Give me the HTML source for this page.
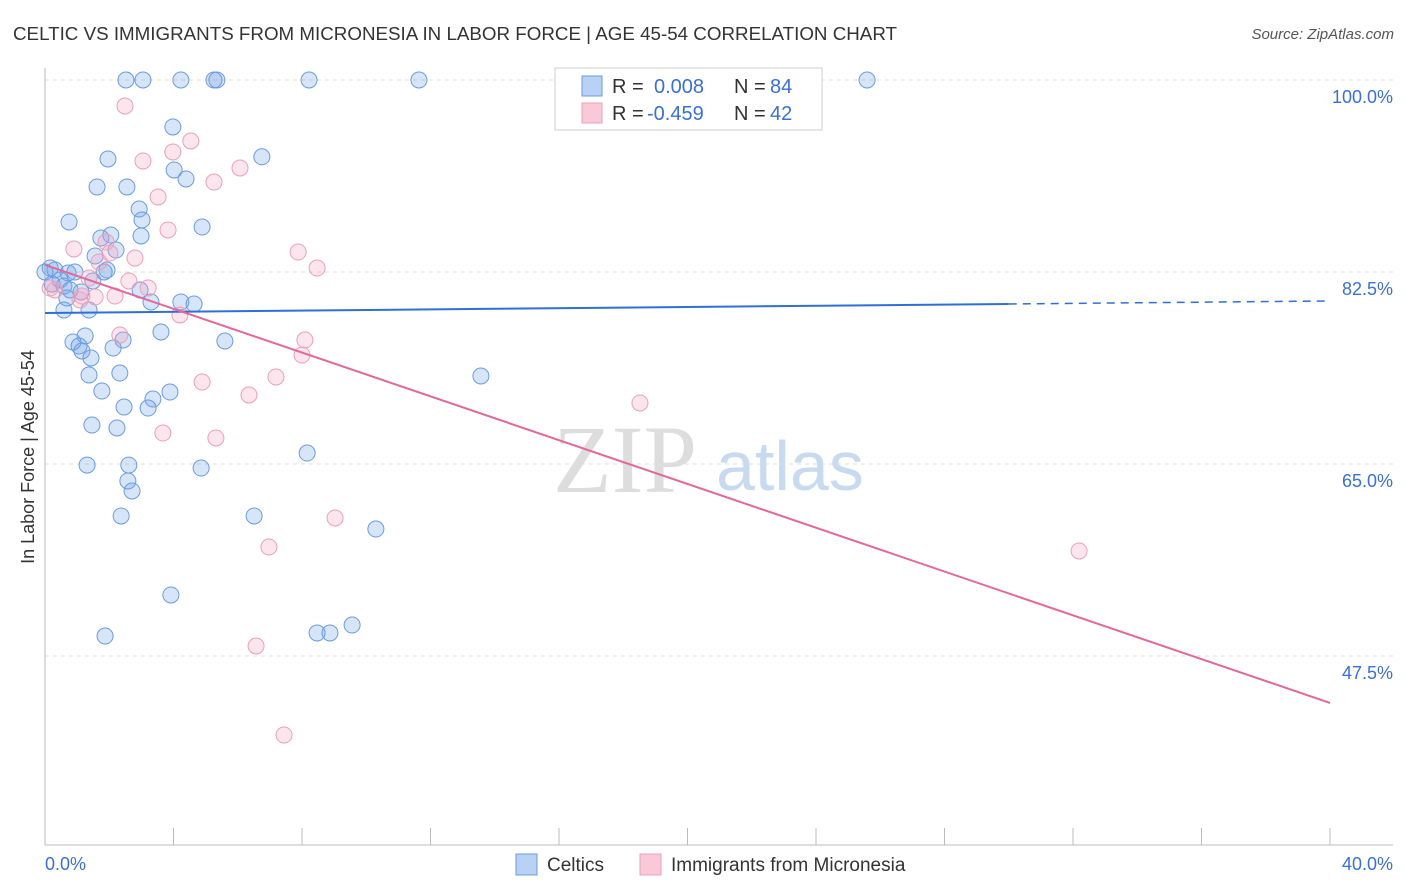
<!DOCTYPE html>
<html><head><meta charset="utf-8"><style>
body{margin:0;background:#fff;font-family:"Liberation Sans",sans-serif;}
svg{display:block}
</style></head><body>
<svg id="chart" width="1406" height="892" viewBox="0 0 1406 892">
<text x="13" y="40" font-size="18" fill="#333" textLength="884" lengthAdjust="spacingAndGlyphs">CELTIC VS IMMIGRANTS FROM MICRONESIA IN LABOR FORCE | AGE 45-54 CORRELATION CHART</text>
<text x="1394" y="39" font-size="15" fill="#555" font-style="italic" text-anchor="end">Source: ZipAtlas.com</text>
<g>
<text x="553" y="492" font-size="96" fill="#ddd" font-family="Liberation Serif,serif">ZIP</text>
<text x="716" y="490" font-size="70" fill="#c8daf0">atlas</text>
</g>
<g id="grid"></g>
<g id="axes"></g>
<g id="marks"></g>
<text transform="translate(34,457) rotate(-90)" font-size="18" fill="#333" text-anchor="middle">In Labor Force | Age 45-54</text>
<g>
<rect x="555" y="68" width="267" height="62" fill="#fff" stroke="#ccc"/>
<rect x="582" y="76" width="20" height="20" fill="#b9d1f5" stroke="#6a9be0"/>
<rect x="582" y="103" width="20" height="20" fill="#f9c9d8" stroke="#e9a0b9"/>
<g font-size="20">
<text x="612" y="93" fill="#333">R =</text><text x="654" y="93" fill="#3a6fd8">0.008</text><text x="734" y="93" fill="#333">N =</text><text x="770" y="93" fill="#3a6fd8">84</text></g>
<g font-size="20">
<text x="612" y="120" fill="#333">R =</text><text x="647" y="120" fill="#3a6fd8">-0.459</text><text x="734" y="120" fill="#333">N =</text><text x="770" y="120" fill="#3a6fd8">42</text></g>
</g>
<g>
<rect x="516" y="854" width="21" height="21" fill="#b9d1f5" stroke="#6a9be0"/>
<text x="547" y="871" font-size="19" fill="#333">Celtics</text>
<rect x="640" y="854" width="21" height="21" fill="#f9c9d8" stroke="#e9a0b9"/>
<text x="671" y="871" font-size="19" fill="#333">Immigrants from Micronesia</text>
</g>
</svg>
<script>
const yTicks=[100,82.5,65,47.5];
const yTickLabels=["100.0%","82.5%","65.0%","47.5%"];
const xTickLabels=["0.0%","40.0%"];
const celticsX=[2.52,3.05,4.23,5.26,5.35,8.22,11.64,25.59,3.98,1.96,6.75,1.62,2.55,4.02,4.39,2.93,3.02,0.75,4.89,1.74,2.05,2.99,2.21,1.56,1.93,1.84,0.16,0.31,0,0.72,0.93,0.47,0.22,0.59,0.78,1.12,1.49,2.96,3.30,4.23,4.64,0.68,0.59,1.37,3.61,1.25,0.87,1.06,1.15,1.43,2.12,2.43,5.60,1.37,2.33,1.77,3.89,3.36,2.46,3.21,13.57,1.46,2.24,1.31,2.61,4.86,2.58,2.71,8.16,2.37,6.51,10.30,3.92,1.87,8.47,8.87,9.56];
const celticsY=[100,100,100,100,100,100,100,100,95.72,92.8,93.0,90.25,90.25,91.8,90.98,88.24,87.24,87.06,86.6,85.6,85.87,85.78,84.5,83.96,82.68,82.5,82.86,82.68,82.5,82.41,82.5,81.77,81.4,81.22,80.86,80.68,81.68,80.86,79.77,79.77,79.58,80.13,79.04,79.04,77.03,76.67,76.12,75.75,75.3,74.66,75.57,76.3,76.21,73.11,73.29,71.65,71.56,70.92,70.19,70.1,73.02,68.55,68.28,64.9,64.9,64.63,63.45,62.54,66.0,60.26,60.26,59.07,53.06,49.32,49.6,49.6,50.32];
const microX=[2.49,4.54,3.05,3.98,3.52,5.26,6.07,3.83,0.90,1.90,2.02,2.80,7.88,8.47,1.68,2.61,3.21,1.37,1.56,2.18,0.31,0.16,4.20,2.33,8.09,8.0,4.89,7.19,6.35,18.52,3.67,5.32,9.03,6.97,32.19,6.57,7.44,1.09,1.15];
const microY=[97.63,94.44,92.62,93.44,89.34,90.7,91.98,86.33,84.6,85.23,84.23,83.77,84.32,82.86,83.41,81.68,81.04,81.95,80.22,80.31,80.86,81.04,78.58,76.76,76.3,74.93,72.47,72.93,71.29,70.56,67.82,67.37,60.08,57.43,57.07,48.41,40.3,79.95,80.31];
const celticsTrend=[78.76,0.0275];
const microTrend=[83.14,-0.998];
const NS="http://www.w3.org/2000/svg";
const X=v=>45+v*32.125, Y=v=>80+(100-v)*10.971;
function mk(tag,attrs,parent){const e=document.createElementNS(NS,tag);for(const k in attrs)e.setAttribute(k,attrs[k]);document.getElementById(parent).appendChild(e);return e;}
yTicks.forEach((t,i)=>{
 const l=mk('line',{x1:45,x2:1393,y1:Y(t),y2:Y(t),stroke:'#ddd','stroke-dasharray':'4,4'},'grid');
 
 
 const tx=mk('text',{x:1393,y:Y(t)+23,'font-size':18,fill:'#3a6fd8','text-anchor':'end'},'axes');
 tx.textContent=yTickLabels[i];
 
 
});
mk('line',{x1:45,x2:45,y1:68,y2:845,stroke:'#bbb'},'axes');
mk('line',{x1:45,x2:1393,y1:845,y2:845,stroke:'#bbb'},'axes');
for(let i=0;i<=10;i++){const t=mk('line',{x1:X(i*4),x2:X(i*4),y1:828,y2:845,stroke:'#bbb'},'axes');
 
 }
const xl0=mk('text',{x:45,y:870,'font-size':18,fill:'#3a6fd8'},'axes');xl0.textContent=xTickLabels[0];


const xl1=mk('text',{x:1393,y:870,'font-size':18,fill:'#3a6fd8','text-anchor':'end'},'axes');xl1.textContent=xTickLabels[1];


celticsX.forEach((v,i)=>{const c=mk('circle',{cx:X(v),cy:Y(celticsY[i]),r:8,fill:'rgba(110,160,235,0.28)',stroke:'#6a9be0','stroke-width':1},'marks');
 
 });
microX.forEach((v,i)=>{const c=mk('circle',{cx:X(v),cy:Y(microY[i]),r:8,fill:'rgba(245,160,190,0.28)',stroke:'#e9a0b9','stroke-width':1},'marks');
 
 });
const bt=v=>celticsTrend[0]+celticsTrend[1]*v, pt=v=>microTrend[0]+microTrend[1]*v;
const l1=mk('line',{x1:X(0),y1:Y(bt(0)),x2:X(30),y2:Y(bt(30)),stroke:'#2f6fd6','stroke-width':2},'marks');


const l2=mk('line',{x1:X(30),y1:Y(bt(30)),x2:X(40),y2:Y(bt(40)),stroke:'#2f6fd6','stroke-width':1.5,'stroke-dasharray':'8,6'},'marks');


const l3=mk('line',{x1:X(0),y1:Y(pt(0)),x2:X(40),y2:Y(pt(40)),stroke:'#e4679a','stroke-width':2},'marks');


</script>
</body></html>
